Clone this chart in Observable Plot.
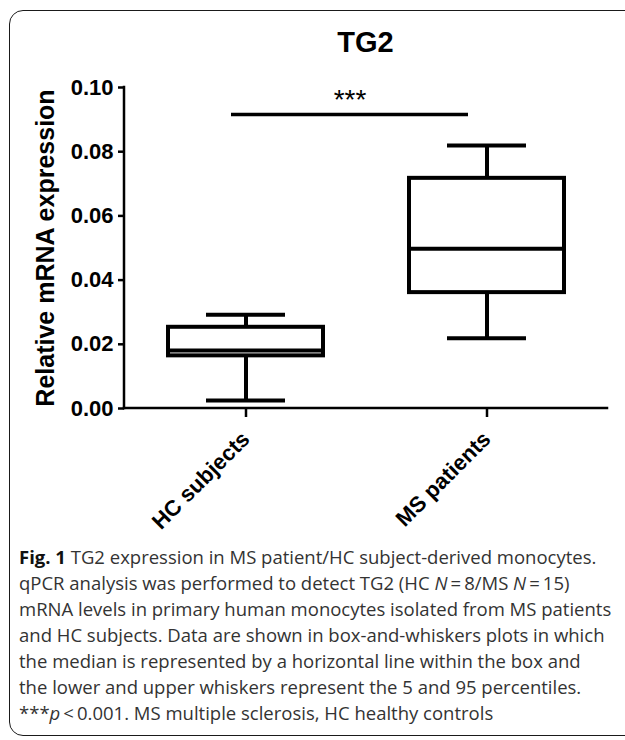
<!DOCTYPE html>
<html>
<head>
<meta charset="utf-8">
<script src="https://cdn.jsdelivr.net/npm/d3@7"></script>
<script src="https://cdn.jsdelivr.net/npm/@observablehq/plot@0.6"></script>
<style>
  html, body { margin: 0; padding: 0; background: #fff; width: 625px; height: 740px; overflow: hidden; }
  #frame { position: absolute; left: 9px; top: 10px; width: 720px; height: 726px; border: 1.5px solid #1a1a1a; border-radius: 14px; box-sizing: border-box; }
  #title { position: absolute; left: 124px; width: 483px; top: 25px; text-align: center; font: bold 29px "Liberation Sans", Arial, sans-serif; color: #000; line-height: 34px; }
  #chart { position: absolute; left: 0; top: 0; }
  #caption { position: absolute; left: 19px; top: 544px; font: 18.5px "Open Sans", sans-serif; line-height: 26px; color: #333; white-space: nowrap; }
  #caption b { color: #111; }
</style>
</head>
<body>
<div id="frame"></div>
<div id="title">TG2</div>
<div id="chart"></div>
<div id="caption">
<b>Fig. 1</b> TG2 expression in MS patient/HC subject-derived monocytes.<br>
qPCR analysis was performed to detect TG2 (HC <i>N</i>&#8201;=&#8201;8/MS <i>N</i>&#8201;=&#8201;15)<br>
mRNA levels in primary human monocytes isolated from MS patients<br>
and HC subjects. Data are shown in box-and-whiskers plots in which<br>
the median is represented by a horizontal line within the box and<br>
the lower and upper whiskers represent the 5 and 95 percentiles.<br>
***<i>p</i>&#8201;&lt;&#8201;0.001. MS multiple sclerosis, HC healthy controls
</div>
<script>
// ---- data ----
const categories  = ["HC subjects", "MS patients"];
const whiskerLow  = [0.0025, 0.0219];   // 5th percentile
const quartile1   = [0.0164, 0.0361];
const medians     = [0.0181, 0.0498];
const quartile3   = [0.0253, 0.0717];
const whiskerHigh = [0.0292, 0.0819];   // 95th percentile
const yTicks      = [0, 0.02, 0.04, 0.06, 0.08, 0.10];
const yLabel      = "Relative mRNA expression";
const sigFrom = "HC subjects", sigTo = "MS patients", sigY = 0.0916, sigText = "***";

const rows = categories.map((c, i) => ({
  group: c, lo: whiskerLow[i], q1: quartile1[i], med: medians[i], q3: quartile3[i], hi: whiskerHigh[i]
}));
const sig = [{from: sigFrom, to: sigTo, y: sigY, text: sigText}];

const boxInset = 43, capInset = 81, lw = 4;

// axis lines (left and bottom) drawn from the plot's own scales and frame
function axisLines(index, scales, values, dims) {
  const y = scales.y;
  const left = dims.marginLeft, right = dims.width - dims.marginRight;
  const g = d3.create("svg:g").attr("aria-label", "axis lines")
    .attr("stroke", "#000").attr("stroke-width", 2.5).attr("stroke-linecap", "square").attr("fill", "none");
  g.append("line").attr("x1", left).attr("x2", left).attr("y1", y(d3.min(yTicks))).attr("y2", y(d3.max(yTicks)));
  g.append("line").attr("x1", left).attr("x2", right).attr("y1", y(d3.min(yTicks))).attr("y2", y(d3.min(yTicks)));
  return g.node();
}

const chart = Plot.plot({
  width: 625,
  height: 545,
  marginLeft: 124,
  marginRight: 18,
  marginTop: 87,
  marginBottom: 137,
  style: {fontFamily: "'Liberation Sans', Arial, sans-serif", color: "#000", background: "transparent", overflow: "visible"},
  x: {domain: categories, padding: 0},
  y: {domain: [0, 0.1]},
  marks: [
    Plot.axisY({ticks: yTicks, tickFormat: ".2f", tickSize: 6, tickPadding: 5, fontSize: 22, fontWeight: "bold", strokeWidth: 2.5, label: null}),
    Plot.axisX({tickRotate: -45, tickSize: 9, tickPadding: 18, fontSize: 22, fontWeight: "bold", strokeWidth: 2.5, label: null}),
    axisLines,
    Plot.text([yLabel], {frameAnchor: "left", text: d => d, rotate: -90, dx: -79, textAnchor: "middle", lineAnchor: "middle", fontSize: 25, fontWeight: "bold", fill: "#000"}),
    Plot.ruleX(rows, {x: "group", y1: "lo", y2: "q1", stroke: "#000", strokeWidth: lw}),
    Plot.ruleX(rows, {x: "group", y1: "q3", y2: "hi", stroke: "#000", strokeWidth: lw}),
    Plot.tickY(rows, {x: "group", y: "lo", stroke: "#000", strokeWidth: lw, insetLeft: capInset, insetRight: capInset}),
    Plot.tickY(rows, {x: "group", y: "hi", stroke: "#000", strokeWidth: lw, insetLeft: capInset, insetRight: capInset}),
    Plot.barY(rows, {x: "group", y1: "q1", y2: "q3", fill: "#fff", stroke: "#000", strokeWidth: lw, insetLeft: boxInset, insetRight: boxInset}),
    Plot.tickY(rows, {x: "group", y: "med", stroke: "#000", strokeWidth: lw, insetLeft: boxInset, insetRight: boxInset}),
    Plot.ruleY(sig, {x1: "from", x2: "to", y: "y", stroke: "#000", strokeWidth: 3.5, insetLeft: 106, insetRight: 139}),
    Plot.text(sig, {x: "from", y: "y", text: "text", dx: 104, dy: -14, fontSize: 28, fill: "#000", style: "letter-spacing:2px"})
  ]
});
document.getElementById("chart").appendChild(chart);
</script>
</body>
</html>
